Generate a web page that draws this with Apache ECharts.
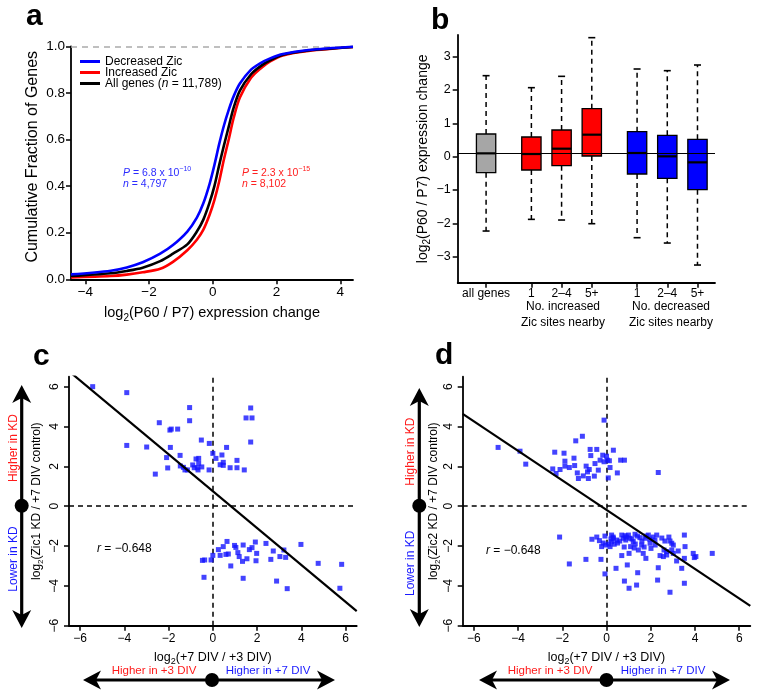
<!DOCTYPE html>
<html><head><meta charset="utf-8">
<script src="https://cdn.jsdelivr.net/npm/echarts@6/dist/echarts.min.js"></script>
<style>html,body{margin:0;padding:0;background:#fff}#c{width:761px;height:700px}</style>
</head><body><div id="c"></div>
<script>
// ---------- Panel a: cumulative distributions ----------
const cdfX         = [-4.45,-3.2,-2.7,-2.2,-1.65,-1.25,-0.8,-0.5,-0.3,-0.1,0.05,0.2,0.35,0.5,0.65,0.85,1.2,1.5,1.8,2.2,3.0,4.4];
const cdfDecreased = [0.021,0.037,0.051,0.073,0.110,0.147,0.205,0.265,0.325,0.410,0.490,0.580,0.660,0.727,0.784,0.840,0.900,0.928,0.948,0.967,0.984,0.998];
const cdfIncreased = [0.008,0.014,0.020,0.030,0.045,0.075,0.125,0.170,0.212,0.277,0.340,0.420,0.515,0.600,0.690,0.780,0.865,0.905,0.935,0.961,0.980,0.997];
const cdfAll       = [0.014,0.026,0.036,0.050,0.078,0.110,0.150,0.205,0.255,0.330,0.400,0.490,0.575,0.655,0.735,0.810,0.880,0.915,0.940,0.964,0.982,0.997];
const cdfNames     = ['Decreased Zic','Increased Zic','All genes (n = 11,789)'];
const cdfTicksX    = [-4,-2,0,2,4];

// ---------- Panel b: box plots ----------
const boxLabels = ['all genes','1','2\u20134','5+','1','2\u20134','5+'];
const boxPos    = [1,2.5,3.5,4.5,6,7,8];
const boxMin    = [-2.23,-1.88,-1.90,-2.01,-2.43,-2.59,-3.25];
const boxQ1     = [-0.48,-0.40,-0.27,0.02,-0.52,-0.65,-0.99];
const boxMed    = [0.10,0.08,0.24,0.66,0.11,0.01,-0.17];
const boxQ3     = [0.68,0.59,0.80,1.44,0.75,0.64,0.52];
const boxMax    = [2.43,2.07,2.41,3.57,2.63,2.58,2.75];
const boxFill   = ['#a6a6a6','#ff0000','#ff0000','#ff0000','#0000ff','#0000ff','#0000ff'];
const boxTicksY = [-3,-2,-1,0,1,2,3];

// ---------- Panel c: Zic1 KD ----------
const zic1Points = [
 [-5.43,6.0],[-3.89,5.70],[-3.89,3.05],[-2.99,2.97],[-2.42,4.19],[-2.60,1.61],[-2.09,2.44],[-2.04,1.92],
 [-1.94,3.82],[-1.88,3.87],[-1.92,2.95],[-1.59,3.87],[-1.48,2.55],[-1.47,2.02],[-1.33,1.95],[-1.26,1.82],
 [-1.15,1.82],[-1.05,4.95],[-1.05,4.29],[-0.91,2.07],[-0.84,1.93],[-0.76,2.37],[-0.70,1.93],[-0.67,1.82],
 [-0.64,2.40],[-0.64,2.15],[-0.52,3.32],[-0.50,1.97],[-0.17,1.82],[-0.16,3.15],[0.0,2.65],[0.14,2.40],
 [0.33,2.08],[0.41,2.57],[0.47,2.2],[0.47,2.05],[0.62,2.95],[0.78,1.93],[1.09,2.30],[1.09,1.93],
 [1.42,1.82],[1.50,4.43],[1.71,4.93],[1.77,4.43],[1.71,3.22],
 [-0.47,-2.72],[-0.37,-2.70],[-0.40,-3.57],[-0.08,-2.70],[0.0,-2.47],[0.25,-2.18],[0.33,-2.47],[0.47,-2.03],
 [0.59,-2.42],[0.64,-1.77],[0.70,-2.40],[0.81,-3.0],[0.98,-1.97],[1.04,-2.07],[1.13,-2.33],[1.19,-2.53],
 [1.34,-2.77],[1.37,-1.95],[1.37,-3.62],[1.54,-2.64],[1.65,-2.18],[1.77,-2.08],[1.92,-1.80],[1.95,-2.74],
 [1.98,-2.37],[2.4,-1.87],[2.62,-2.67],[2.73,-2.25],[2.88,-3.76],[3.03,-2.53],[3.21,-2.2],[3.29,-2.57],
 [3.36,-4.14],[3.98,-1.92],[4.76,-2.87],[5.74,-4.12],[5.82,-2.92]
];
const zic1Fit = [-0.926, 0.755];   // slope, intercept

// ---------- Panel d: Zic2 KD ----------
const zic2Points = [
 [-4.90,2.95],[-3.91,2.76],[-3.65,2.11],[-2.43,1.87],[-2.34,2.71],[-2.28,1.64],[-2.10,1.84],[-1.92,2.66],
 [-1.88,2.26],[-1.88,2.01],[-1.68,1.94],[-1.47,2.41],[-1.44,2.04],[-1.39,3.28],[-1.32,1.67],[-1.27,1.39],
 [-1.09,3.51],[-1.05,1.52],[-0.92,2.01],[-0.86,1.72],[-0.82,1.39],[-0.78,1.84],[-0.74,2.85],[-0.71,2.54],
 [-0.55,1.51],[-0.52,2.14],[-0.44,2.85],[-0.37,1.81],[-0.29,2.31],[-0.11,2.23],[-0.11,4.32],[-0.17,2.56],
 [0.0,2.51],[0.04,2.31],[0.08,1.42],[0.13,2.28],[0.16,1.94],[0.31,2.81],[0.49,1.67],[0.64,2.31],
 [0.81,2.31],[2.34,1.69],
 [-2.12,-1.55],[-1.68,-2.90],[-0.93,-2.67],[-0.66,-1.66],[-0.44,-1.55],[-0.32,-1.73],[-0.25,-2.67],[-0.22,-2.03],
 [-0.07,-1.50],[-0.07,-3.40],[-0.04,-1.95],[0.16,-2.03],[0.23,-1.45],[0.23,-1.78],[0.31,-1.61],[0.35,-1.91],
 [0.43,-3.12],[0.46,-1.70],[0.69,-2.48],[0.69,-1.45],[0.76,-1.61],[0.84,-1.48],[0.87,-1.70],[0.94,-2.95],
 [0.81,-3.76],[1.02,-4.12],[0.99,-1.45],[1.06,-1.61],[1.09,-2.03],[1.02,-2.37],[1.21,-1.78],[1.29,-1.41],
 [1.36,-3.96],[1.41,-3.34],[1.44,-2.20],[1.51,-1.58],[1.59,-1.95],[1.66,-2.37],[1.74,-1.61],[1.78,-2.62],
 [1.89,-1.45],[1.97,-1.86],[2.01,-2.12],[2.19,-1.70],[2.27,-1.45],[2.34,-3.09],[2.31,-3.71],[2.42,-2.48],
 [2.57,-2.53],[2.64,-1.75],[2.72,-2.45],[2.82,-1.55],[2.87,-1.75],[2.87,-4.32],[2.95,-2.20],[3.02,-2.37],
 [2.95,-1.86],[3.02,-1.95],[2.72,-2.28],[3.24,-2.25],[3.17,-2.75],[3.40,-3.12],[3.52,-1.45],[3.55,-2.03],
 [3.52,-2.62],[3.52,-3.87],[3.92,-2.37],[3.97,-2.58],[4.04,-2.53],[4.78,-2.37],
 [0.30,-1.55],[0.50,-1.85],[0.90,-1.55],[1.15,-1.65],[1.30,-1.90],[1.60,-1.75],[1.80,-1.50],[2.10,-1.55],
 [0.60,-1.75],[0.20,-1.65],[1.40,-1.50],[1.95,-1.65],[2.50,-1.60],[0.10,-1.90],[-0.15,-1.85],[0.80,-2.05],
 [1.25,-2.10],[1.70,-2.05],[2.20,-1.95],[2.60,-2.20]
];
const zic2Fit = [-0.742, -0.185];  // slope, intercept
const scatterTicks = [-6,-4,-2,0,2,4,6];

// ---------- helpers ----------
const FONT = '"Liberation Sans", Arial, Helvetica, sans-serif';
const minus = v => String(v).replace('-', '\u2212');
const SX = [-6.5, 6.5], SY = [-6, 6.5];
function logRich(size) {
  const L = size + 5;
  return {
    a: {fontSize: size, fontFamily: FONT, color: '#000', lineHeight: L, verticalAlign: 'middle'},
    s: {fontSize: Math.round(size * 0.68), fontFamily: FONT, color: '#000', lineHeight: L, verticalAlign: 'bottom'}
  };
}
const logName = rest => '{a|log}{s|2}{a|' + rest + '}';
function axisBase(extra) {
  return Object.assign({
    type: 'value',
    splitLine: {show: false},
    axisLine: {onZero: false, lineStyle: {color: '#000', width: 1.8}},
    axisTick: {length: 5, lineStyle: {color: '#000', width: 1.5}},
    axisLabel: {color: '#000', fontFamily: FONT, fontSize: 12, formatter: minus},
    nameLocation: 'middle'
  }, extra);
}
const fitLine = (fit) => [SX[0], SX[1]].map(x => [x, fit[0] * x + fit[1]]);

const chart = echarts.init(document.getElementById('c'), null, {renderer: 'canvas'});

const cdfColors = ['#0000ff', '#ff0000', '#000000'];
const cdfSeries = [cdfDecreased, cdfIncreased, cdfAll].map((arr, i) => ({
  type: 'line', name: cdfNames[i], xAxisIndex: 0, yAxisIndex: 0,
  data: cdfX.map((x, k) => [x, arr[k]]),
  showSymbol: false, smooth: 0.3,
  lineStyle: {width: 2.6, color: cdfColors[i]},
  itemStyle: {color: cdfColors[i]},
  z: [5, 3, 4][i],
  markLine: i === 0 ? {silent: true, symbol: 'none', label: {show: false},
    lineStyle: {color: '#aaaaaa', type: [6, 5], width: 1.5}, data: [{yAxis: 1}]} : undefined
}));

const boxData = boxPos.map((p, i) => [p, boxMin[i], boxQ1[i], boxMed[i], boxQ3[i], boxMax[i], i]);

function renderBox(params, api) {
  const x = api.value(0);
  const i = api.value(6);
  const pMin = api.coord([x, api.value(1)]);
  const pQ1 = api.coord([x, api.value(2)]);
  const pMed = api.coord([x, api.value(3)]);
  const pQ3 = api.coord([x, api.value(4)]);
  const pMax = api.coord([x, api.value(5)]);
  const half = api.size([0.64, 0])[0] / 2;
  const cap = 3.5;
  const cx = pMed[0];
  const dashed = {stroke: '#000', lineWidth: 1.5, lineDash: [5, 4]};
  const solid = {stroke: '#000', lineWidth: 1.6};
  return {type: 'group', children: [
    {type: 'line', shape: {x1: cx, y1: pQ3[1], x2: cx, y2: pMax[1]}, style: dashed},
    {type: 'line', shape: {x1: cx, y1: pQ1[1], x2: cx, y2: pMin[1]}, style: dashed},
    {type: 'line', shape: {x1: cx - cap, y1: pMax[1], x2: cx + cap, y2: pMax[1]}, style: solid},
    {type: 'line', shape: {x1: cx - cap, y1: pMin[1], x2: cx + cap, y2: pMin[1]}, style: solid},
    {type: 'rect', shape: {x: cx - half, y: pQ3[1], width: half * 2, height: pQ1[1] - pQ3[1]},
      style: {fill: boxFill[i], stroke: '#000', lineWidth: 1.3}},
    {type: 'line', shape: {x1: cx - half, y1: pMed[1], x2: cx + half, y2: pMed[1]},
      style: {stroke: '#000', lineWidth: 2.2}}
  ]};
}

function scatterSeries(points, fit, idx) {
  return [
    {type: 'scatter', xAxisIndex: idx, yAxisIndex: idx, data: points, symbol: 'rect', symbolSize: 5,
      itemStyle: {color: '#1414ff'}, z: 3,
      markLine: {silent: true, symbol: 'none', label: {show: false}, z: 1,
        lineStyle: {color: '#000', type: [5, 4], width: 1.5},
        data: [{xAxis: 0}, {yAxis: 0}]}},
    {type: 'line', xAxisIndex: idx, yAxisIndex: idx, data: fitLine(fit), showSymbol: false,
      clip: true, lineStyle: {color: '#000', width: 2.2}, z: 4}
  ];
}

// ---------- annotation graphics ----------
function head(tx, ty, dx, dy) {
  const L = 18, W = 9.5, N = 5;
  const px = -dy, py = dx;
  return {type: 'polygon', shape: {points: [
    [tx, ty],
    [tx - dx * L + px * W, ty - dy * L + py * W],
    [tx - dx * (L - N), ty - dy * (L - N)],
    [tx - dx * L - px * W, ty - dy * L - py * W]
  ]}, style: {fill: '#000'}};
}
function vArrow(x, top, bottom, cy) {
  return [
    {type: 'line', shape: {x1: x, y1: top + 12, x2: x, y2: bottom - 12}, style: {stroke: '#000', lineWidth: 3.2}},
    head(x, top, 0, -1), head(x, bottom, 0, 1),
    {type: 'circle', shape: {cx: x, cy: cy, r: 7}, style: {fill: '#000'}}
  ];
}
function hArrow(y, left, right, cx) {
  return [
    {type: 'line', shape: {x1: left + 12, y1: y, x2: right - 12, y2: y}, style: {stroke: '#000', lineWidth: 3.2}},
    head(left, y, -1, 0), head(right, y, 1, 0),
    {type: 'circle', shape: {cx: cx, cy: y, r: 7}, style: {fill: '#000'}}
  ];
}
function txt(x, y, text, color, size, opts) {
  opts = opts || {};
  return {type: 'text', x: x, y: y, rotation: opts.rot || 0, z: 10,
    style: {x: 0, y: 0, text: text, fill: color, font: (opts.weight || 'normal') + ' ' + size + 'px ' + FONT,
      align: opts.align || 'center', verticalAlign: 'middle', textAlign: opts.align || 'center', textVerticalAlign: 'middle',
      lineHeight: opts.lh, rich: opts.rich}};
}
function pRich(color) {
  return {
    i: {fontStyle: 'italic', fontSize: 10.5, fontFamily: FONT, color: color, lineHeight: 14, verticalAlign: 'middle'},
    t: {fontSize: 10.5, fontFamily: FONT, color: color, lineHeight: 14, verticalAlign: 'middle'},
    u: {fontSize: 7, fontFamily: FONT, color: color, lineHeight: 14, verticalAlign: 'top'}
  };
}
const rRich = {
  i: {fontStyle: 'italic', fontSize: 12, fontFamily: FONT, color: '#000'},
  t: {fontSize: 12, fontFamily: FONT, color: '#000'}
};

const graphics = [
  txt(26, 17, 'a', '#000', 30, {weight: 'bold', align: 'left'}),
  txt(431, 21, 'b', '#000', 30, {weight: 'bold', align: 'left'}),
  txt(33, 357, 'c', '#000', 30, {weight: 'bold', align: 'left'}),
  txt(435, 356, 'd', '#000', 30, {weight: 'bold', align: 'left'}),
  txt(123, 173, '{i|P}{t| = 6.8 x 10}{u|\u221210}', '#2b2bff', 10.5, {align: 'left', rich: pRich('#2b2bff')}),
  txt(123, 184.5, '{i|n}{t| = 4,797}', '#2b2bff', 10.5, {align: 'left', rich: pRich('#2b2bff')}),
  txt(242, 173, '{i|P}{t| = 2.3 x 10}{u|\u221215}', '#ff2020', 10.5, {align: 'left', rich: pRich('#ff2020')}),
  txt(242, 184.5, '{i|n}{t| = 8,102}', '#ff2020', 10.5, {align: 'left', rich: pRich('#ff2020')}),
  txt(563, 314.5, 'No. increased\nZic sites nearby', '#000', 12, {lh: 15.5}),
  txt(671, 314.5, 'No. decreased\nZic sites nearby', '#000', 12, {lh: 15.5}),
  txt(97, 549, '{i|r}{t| = \u22120.648}', '#000', 12, {align: 'left', rich: rRich}),
  txt(486, 550.5, '{i|r}{t| = \u22120.648}', '#000', 12, {align: 'left', rich: rRich}),
  ...vArrow(21.7, 385, 628, 505.7),
  ...hArrow(680, 83, 335, 212),
  ...vArrow(419.3, 388, 627, 505.7),
  ...hArrow(680, 479, 730, 606.5),
  txt(14, 448, 'Higher in KD', '#ff1a1a', 12, {rot: Math.PI / 2}),
  txt(14, 559, 'Lower in KD', '#1a1aff', 12, {rot: Math.PI / 2}),
  txt(410.7, 451.7, 'Higher in KD', '#ff1a1a', 12, {rot: Math.PI / 2}),
  txt(410.7, 563.3, 'Lower in KD', '#1a1aff', 12, {rot: Math.PI / 2}),
  txt(154, 671, 'Higher in +3 DIV', '#ff1a1a', 11.5),
  txt(268, 671, 'Higher in +7 DIV', '#1a1aff', 11.5),
  txt(550, 671, 'Higher in +3 DIV', '#ff1a1a', 11.5),
  txt(663, 671, 'Higher in +7 DIV', '#1a1aff', 11.5)
];

const option = {
  backgroundColor: '#fff',
  animation: false,
  textStyle: {fontFamily: FONT},
  grid: [
    {left: 71, top: 46.3, width: 282, height: 233},
    {left: 457.7, top: 35, width: 257.3, height: 247.7},
    {left: 69, top: 376.7, width: 287.7, height: 249},
    {left: 462.7, top: 376.7, width: 287.6, height: 249}
  ],
  legend: {
    left: 80, top: 55.5, padding: 0, orient: 'vertical', itemWidth: 20, itemHeight: 3, itemGap: -1, icon: 'rect',
    data: cdfNames,
    textStyle: {fontSize: 12, fontFamily: FONT, color: '#000', lineHeight: 10.5,
      rich: {t: {fontSize: 12, fontFamily: FONT, color: '#000', lineHeight: 10.5},
             i: {fontSize: 12, fontFamily: FONT, color: '#000', lineHeight: 10.5, fontStyle: 'italic'}}},
    formatter: n => n.indexOf('(n') >= 0 ? '{t|All genes (}{i|n}{t| = 11,789)}' : '{t|' + n + '}'
  },
  xAxis: [
    axisBase({gridIndex: 0, min: -4.45, max: 4.4,
      axisTick: {customValues: cdfTicksX, length: 5, lineStyle: {color: '#000', width: 1.5}},
      axisLabel: {customValues: cdfTicksX, color: '#000', fontFamily: FONT, fontSize: 13.5, formatter: minus, margin: 6},
      name: logName('(P60 / P7) expression change'), nameGap: 24,
      nameTextStyle: {rich: logRich(14.5)}}),
    axisBase({gridIndex: 1, min: 0.06, max: 8.58,
      axisTick: {customValues: boxPos, length: 5, lineStyle: {color: '#000', width: 1.5}},
      axisLabel: {customValues: boxPos, color: '#000', fontFamily: FONT, fontSize: 12, margin: 5,
        formatter: v => boxLabels[boxPos.indexOf(v)]}}),
    axisBase({gridIndex: 2, min: SX[0], max: SX[1],
      axisTick: {customValues: scatterTicks, length: 5, lineStyle: {color: '#000', width: 1.5}},
      axisLabel: {customValues: scatterTicks, color: '#000', fontFamily: FONT, fontSize: 12, formatter: minus, margin: 7},
      name: logName('(+7 DIV / +3 DIV)'), nameGap: 23, nameTextStyle: {rich: logRich(12.5)}}),
    axisBase({gridIndex: 3, min: SX[0], max: SX[1],
      axisTick: {customValues: scatterTicks, length: 5, lineStyle: {color: '#000', width: 1.5}},
      axisLabel: {customValues: scatterTicks, color: '#000', fontFamily: FONT, fontSize: 12, formatter: minus, margin: 7},
      name: logName('(+7 DIV / +3 DIV)'), nameGap: 23, nameTextStyle: {rich: logRich(12.5)}})
  ],
  yAxis: [
    axisBase({gridIndex: 0, min: 0, max: 1, interval: 0.2,
      axisLabel: {color: '#000', fontFamily: FONT, fontSize: 13.5, formatter: v => v.toFixed(1), margin: 6},
      name: 'Cumulative Fraction of Genes', nameGap: 30, nameRotate: 90,
      nameTextStyle: {fontSize: 16, fontFamily: FONT, color: '#000', padding: [0, 0, 0, 12]}}),
    axisBase({gridIndex: 1, min: -3.78, max: 3.65,
      axisTick: {customValues: boxTicksY, length: 5, lineStyle: {color: '#000', width: 1.5}},
      axisLabel: {customValues: boxTicksY, color: '#000', fontFamily: FONT, fontSize: 12.5, formatter: minus, margin: 7},
      name: logName('(P60 / P7) expression change'), nameGap: 18, nameRotate: 90,
      nameTextStyle: {rich: logRich(14)}}),
    axisBase({gridIndex: 2, min: SY[0], max: SY[1],
      axisTick: {customValues: scatterTicks, length: 5, lineStyle: {color: '#000', width: 1.5}},
      axisLabel: {customValues: scatterTicks, rotate: 90, color: '#000', fontFamily: FONT, fontSize: 12, formatter: minus, margin: 8},
      name: logName('(Zic1 KD / +7 DIV control)'), nameGap: 24, nameRotate: 90,
      nameTextStyle: {rich: logRich(12)}}),
    axisBase({gridIndex: 3, min: SY[0], max: SY[1],
      axisTick: {customValues: scatterTicks, length: 5, lineStyle: {color: '#000', width: 1.5}},
      axisLabel: {customValues: scatterTicks, rotate: 90, color: '#000', fontFamily: FONT, fontSize: 12, formatter: minus, margin: 8},
      name: logName('(Zic2 KD / +7 DIV control)'), nameGap: 21, nameRotate: 90,
      nameTextStyle: {rich: logRich(12)}})
  ],
  series: [
    ...cdfSeries,
    {type: 'line', xAxisIndex: 1, yAxisIndex: 1, data: [], z: 1,
      markLine: {silent: true, symbol: 'none', label: {show: false},
        lineStyle: {color: '#000', type: 'solid', width: 1.2}, data: [{yAxis: boxMed[0]}]}},
    {type: 'custom', xAxisIndex: 1, yAxisIndex: 1, data: boxData, renderItem: renderBox, z: 3,
      encode: {x: 0, y: [1, 2, 3, 4, 5]}},
    ...scatterSeries(zic1Points, zic1Fit, 2),
    ...scatterSeries(zic2Points, zic2Fit, 3)
  ],
  graphic: {elements: graphics}
};
chart.setOption(option);
</script></body></html>
